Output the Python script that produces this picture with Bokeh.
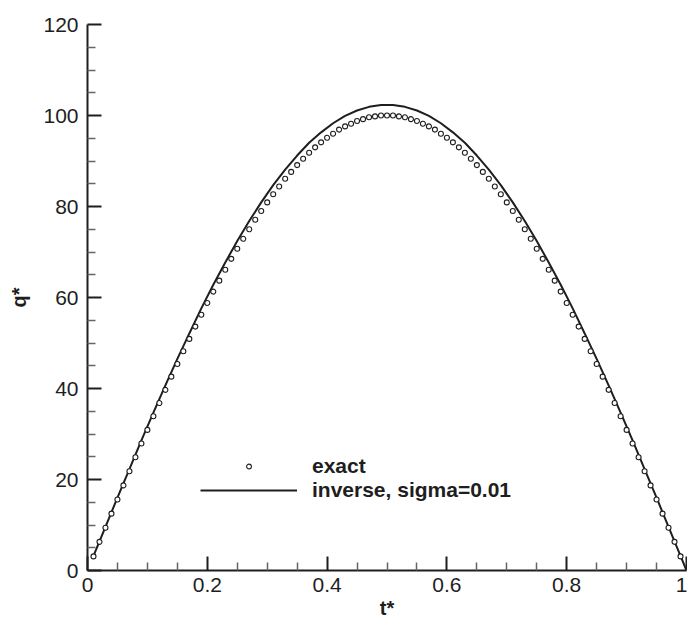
from bokeh.plotting import figure
from bokeh.models import Range1d, FixedTicker, Legend, LegendItem
from bokeh.embed import file_html
from bokeh.resources import INLINE

# ---- data ----
t_exact = [round(0.01 * k, 2) for k in range(1, 100)]
q_exact = [3.1, 6.3, 9.4, 12.5, 15.6, 18.7, 21.8, 24.9, 27.9, 30.9,
           33.9, 36.8, 39.7, 42.6, 45.4, 48.2, 50.9, 53.6, 56.2, 58.8,
           61.3, 63.7, 66.1, 68.5, 70.7, 72.9, 75.0, 77.1, 79.0, 80.9,
           82.7, 84.4, 86.1, 87.6, 89.1, 90.5, 91.8, 93.0, 94.1, 95.1,
           96.0, 96.9, 97.6, 98.2, 98.8, 99.2, 99.6, 99.8, 100.0, 100.0,
           100.0, 99.8, 99.6, 99.2, 98.8, 98.2, 97.6, 96.9, 96.0, 95.1,
           94.1, 93.0, 91.8, 90.5, 89.1, 87.6, 86.1, 84.4, 82.7, 80.9,
           79.0, 77.1, 75.0, 72.9, 70.7, 68.5, 66.1, 63.7, 61.3, 58.8,
           56.2, 53.6, 50.9, 48.2, 45.4, 42.6, 39.7, 36.8, 33.9, 30.9,
           27.9, 24.9, 21.8, 18.7, 15.6, 12.5, 9.4, 6.3, 3.1]

t_inverse = [0.01, 0.03, 0.05, 0.07, 0.09, 0.11, 0.13, 0.15, 0.17, 0.19,
             0.21, 0.23, 0.25, 0.27, 0.29, 0.31, 0.33, 0.35, 0.37, 0.39,
             0.41, 0.43, 0.45, 0.47, 0.49, 0.51, 0.53, 0.55, 0.57, 0.59,
             0.61, 0.63, 0.65, 0.67, 0.69, 0.71, 0.73, 0.75, 0.77, 0.79,
             0.81, 0.83, 0.85, 0.87, 0.89, 0.91, 0.93, 0.95, 0.97, 0.99, 1.0]
q_inverse = [3.2, 9.6, 16.0, 22.3, 28.6, 34.7, 40.7, 46.5, 52.1, 57.6,
             62.8, 67.7, 72.4, 76.8, 80.9, 84.7, 88.1, 91.2, 94.0, 96.3,
             98.3, 99.9, 101.1, 101.9, 102.3, 102.3, 101.9, 101.1, 99.9, 98.3,
             96.3, 94.0, 91.2, 88.1, 84.7, 80.9, 76.8, 72.4, 67.7, 62.8,
             57.6, 52.1, 46.5, 40.7, 34.7, 28.6, 22.3, 16.0, 9.6, 3.2, 0.0]

x_ticks = [0, 0.2, 0.4, 0.6, 0.8, 1.0]
x_tick_labels = ["0", "0.2", "0.4", "0.6", "0.8", "1"]
x_minor = [0.05, 0.1, 0.15, 0.25, 0.3, 0.35, 0.45, 0.5, 0.55,
           0.65, 0.7, 0.75, 0.85, 0.9, 0.95]
y_ticks = [0, 20, 40, 60, 80, 100, 120]
y_tick_labels = ["0", "20", "40", "60", "80", "100", "120"]
y_minor = [5, 10, 15, 25, 30, 35, 45, 50, 55, 65, 70, 75, 85, 90, 95,
           105, 110, 115]

series_names = ["exact", "inverse, sigma=0.01"]

FONT = "Liberation Sans"
INK = "#1e1e1e"

p = figure(width=687, height=622, output_backend="svg", toolbar_location=None,
           x_range=Range1d(0, 1), y_range=Range1d(0, 120),
           min_border_left=87, min_border_right=1, min_border_top=24,
           min_border_bottom=52)
p.outline_line_color = None
p.grid.visible = False
p.background_fill_color = "white"
p.border_fill_color = "white"

line_r = p.line(t_inverse, q_inverse, line_color=INK, line_width=2)
pts_r = p.scatter(t_exact, q_exact, marker="circle", size=5,
                  fill_color="white", line_color=INK, line_width=1.1)

p.xaxis.ticker = FixedTicker(ticks=x_ticks, minor_ticks=x_minor)
p.yaxis.ticker = FixedTicker(ticks=y_ticks, minor_ticks=y_minor)
p.xaxis.major_label_overrides = {v: s for v, s in zip(x_ticks, x_tick_labels)}
p.yaxis.major_label_overrides = {v: s for v, s in zip(y_ticks, y_tick_labels)}

for ax in (p.xaxis[0], p.yaxis[0]):
    ax.axis_line_color = INK
    ax.axis_line_width = 2
    ax.major_tick_in = 14
    ax.major_tick_out = 0
    ax.minor_tick_in = 8
    ax.minor_tick_out = 0
    ax.major_tick_line_color = INK
    ax.major_tick_line_width = 2
    ax.minor_tick_line_color = "#666666"
    ax.minor_tick_line_width = 1.5
    ax.major_label_text_font = FONT
    ax.major_label_text_font_size = "21px"
    ax.major_label_text_color = INK
    ax.axis_label_text_font = FONT
    ax.axis_label_text_font_size = "20px"
    ax.axis_label_text_font_style = "bold"
    ax.axis_label_text_color = INK

p.xaxis.axis_label = "t*"
p.yaxis.axis_label = "q*"
p.xaxis.major_label_standoff = 7
p.xaxis.axis_label_standoff = 2
p.yaxis.major_label_standoff = 9
p.yaxis.axis_label_standoff = 10

legend = Legend(items=[LegendItem(label=series_names[0], renderers=[pts_r]),
                       LegendItem(label=series_names[1], renderers=[line_r])],
                location=(113, 68), glyph_width=97, glyph_height=12,
                label_standoff=15, spacing=0, padding=0, margin=0,
                label_text_font=FONT, label_text_font_size="21px",
                label_text_font_style="bold", label_text_color=INK,
                label_height=20,
                border_line_color=None, background_fill_alpha=0)
p.add_layout(legend, "center")

open("out.html", "w").write(file_html(p, INLINE))
